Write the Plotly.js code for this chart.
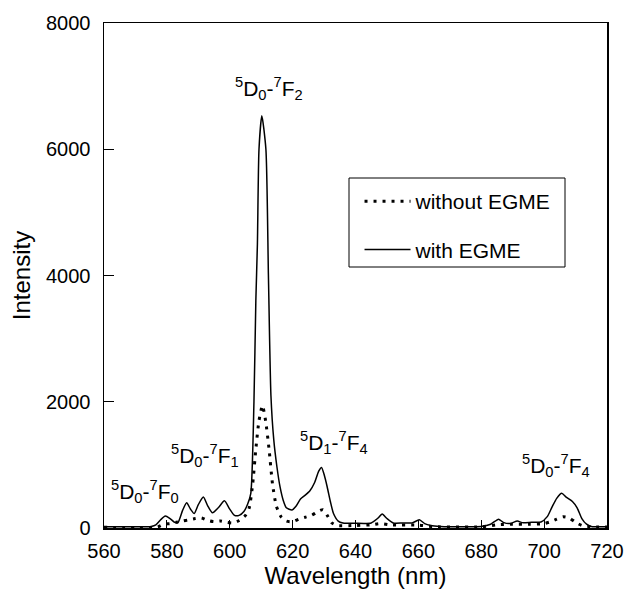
<!DOCTYPE html>
<html>
<head>
<meta charset="utf-8">
<script src="https://cdn.plot.ly/plotly-3.0.1.min.js"></script>
<style>html,body{margin:0;padding:0;background:#fff;}#chart{width:630px;height:592px;}</style>
</head>
<body>
<div id="chart"></div>
<script>
// With EGME (solid)
var wlWith = [560,565,570,575,576.5,578,579.5,581,582.5,583.5,585,586.3,587.5,588.7,590,591.6,593,594.5,596.5,598.3,600,601.5,603,604.5,605.7,606.7,607.7,608.3,608.8,609.3,610.2,611.5,612.3,613.1,614,615,616,617,618,619.8,621,622.5,624,625.5,627,628.3,629.2,630,631,632,633,634.5,636,640,645,647,648.5,650,652,655,658,660.3,662,664,667,670,675,680,683,685.5,687,689,691.5,693,696,699,701,702.5,704,705.6,707,709,710.5,712,713.5,715,720];
var intWith = [20,20,20,25,50,130,190,150,90,85,280,400,300,230,370,490,350,240,330,430,300,200,200,260,380,550,2000,3600,4500,6000,6530,6000,4000,2100,1400,970,650,440,320,285,340,460,520,590,720,900,960,850,650,420,230,110,80,75,80,150,220,150,80,80,80,130,70,40,25,20,20,25,60,140,90,70,110,85,90,95,180,330,470,550,490,420,320,150,60,25,20];
// Without EGME (dotted)
var wlWithout = [560,570,577,579,581,583,585,587,589,591,593,595,597,599,601,603,605,606.2,607.3,608.3,609.3,610.4,611.4,612.5,613.6,614.8,616.3,618,620,622,624,626,628,629.7,631,632.5,634,640,645,648,651,660,665,680,685,690,695,700,702,704,706,708,710,712,715,720];
var intWithout = [10,10,15,60,70,90,110,130,150,160,120,100,110,90,80,120,200,320,700,1250,1700,1940,1700,1250,700,350,180,110,100,140,170,200,260,290,200,80,40,40,50,70,50,45,20,20,50,60,60,70,100,140,180,160,90,40,20,15];
var seriesNames = ["without EGME", "with EGME"];
var xTicks = [560,580,600,620,640,660,680,700,720];
var yTicks = [0,2000,4000,6000,8000];
var labels = [
  {text:"<sup>5</sup>D<sub>0</sub>-<sup>7</sup>F<sub>0</sub>", x:573, y:586},
  {text:"<sup>5</sup>D<sub>0</sub>-<sup>7</sup>F<sub>1</sub>", x:592.1, y:1156},
  {text:"<sup>5</sup>D<sub>0</sub>-<sup>7</sup>F<sub>2</sub>", x:612.5, y:6970},
  {text:"<sup>5</sup>D<sub>1</sub>-<sup>7</sup>F<sub>4</sub>", x:633.2, y:1362},
  {text:"<sup>5</sup>D<sub>0</sub>-<sup>7</sup>F<sub>4</sub>", x:703.8, y:998}
];

var FONT = "Liberation Sans, Arial, Helvetica, sans-serif";
var traces = [
  {x: wlWithout, y: intWithout, name: seriesNames[0], type: "scatter", mode: "lines",
   line: {color: "#000", width: 3, dash: "3px,6px", shape: "spline", smoothing: 0.6}, legendgroup: "a"},
  {x: wlWith, y: intWith, name: seriesNames[1], type: "scatter", mode: "lines",
   line: {color: "#000", width: 1.5, shape: "spline", smoothing: 0.6}, legendgroup: "b"}
];
var layout = {
  width: 630, height: 592,
  margin: {l: 104, r: 23, t: 23, b: 64},
  paper_bgcolor: "#fff", plot_bgcolor: "#fff",
  font: {family: FONT, color: "#000", size: 20},
  showlegend: true,
  legend: {x: 0.508, y: 0.687, xanchor: "left", yanchor: "top", bgcolor: "rgba(0,0,0,0)",
           borderwidth: 0, font: {size: 21, family: FONT}, traceorder: "grouped", tracegroupgap: 18, itemwidth: 46},
  xaxis: {range: [560, 720], tickvals: xTicks, ticktext: xTicks.map(String), ticks: "inside", ticklen: 8,
          tickcolor: "#000", tickwidth: 1, showline: true, mirror: true, linecolor: "#000", linewidth: 1.5,
          showgrid: false, zeroline: false, tickfont: {size: 20}, ticklabelstandoff: 4,
          title: {text: "Wavelength (nm)", font: {size: 24}, standoff: 6}},
  yaxis: {range: [0, 8000], tickvals: yTicks, ticktext: yTicks.map(String), ticks: "inside", ticklen: 10,
          tickcolor: "#000", tickwidth: 1, showline: true, mirror: true, linecolor: "#000", linewidth: 1.5,
          showgrid: false, zeroline: false, tickfont: {size: 20}, ticklabelstandoff: 8,
          title: {text: "Intensity", font: {size: 24}, standoff: 8}},
  shapes: [
    {type: "rect", xref: "paper", yref: "paper", x0: (349-104)/503, x1: (565-104)/503,
     y0: (528-267)/505, y1: (528-178)/505, line: {color: "#000", width: 1}}
  ],
  annotations: labels.map(function(l){
    return {text: l.text, x: l.x, y: l.y, xref: "x", yref: "y", showarrow: false,
            font: {size: 21, family: FONT, color: "#000"}, xanchor: "center", yanchor: "middle"};
  })
};
Plotly.newPlot("chart", traces, layout, {displayModeBar: false, staticPlot: true});
</script>
</body>
</html>
